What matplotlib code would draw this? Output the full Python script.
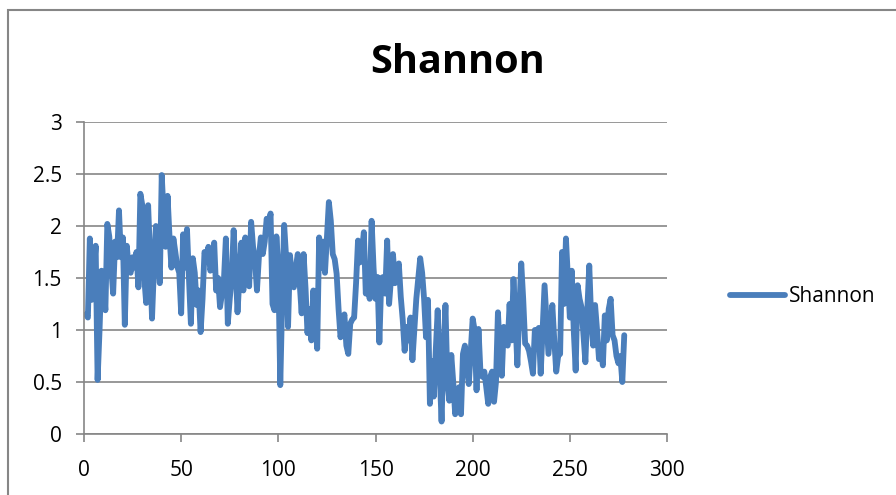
import numpy as np
import matplotlib
matplotlib.use("Agg")
import matplotlib.pyplot as plt
from matplotlib.patches import Rectangle

# values, sample index 1..278
shannon = [
    1.15, 1.12, 1.88, 1.29, 1.55, 1.81, 0.52, 1.00, 1.57, 1.45,
    1.19, 2.02, 1.90, 1.60, 1.35, 1.85, 1.70, 2.15, 1.70, 1.89,
    1.05, 1.81, 1.60, 1.55, 1.70, 1.60, 1.75, 1.41, 2.31, 2.20,
    1.50, 1.26, 2.20, 1.70, 1.11, 1.60, 2.00, 1.80, 1.45, 2.49,
    2.10, 1.80, 2.29, 1.90, 1.60, 1.88, 1.75, 1.61, 1.55, 1.16,
    1.92, 1.60, 1.97, 1.50, 1.06, 1.69, 1.55, 1.24, 1.38, 0.98,
    1.30, 1.75, 1.70, 1.80, 1.57, 1.65, 1.84, 1.38, 1.50, 1.22,
    1.35, 1.48, 1.88, 1.06, 1.30, 1.51, 1.96, 1.60, 1.17, 1.50,
    1.84, 1.38, 1.89, 1.50, 1.42, 2.04, 1.80, 1.67, 1.38, 1.70,
    1.89, 1.73, 1.85, 2.07, 2.00, 2.12, 1.25, 1.19, 1.90, 1.60,
    0.47, 1.30, 2.01, 1.70, 1.03, 1.72, 1.50, 1.41, 1.60, 1.73,
    1.45, 1.16, 1.73, 1.40, 0.97, 1.20, 0.90, 1.38, 1.10, 0.82,
    1.89, 1.60, 1.85, 1.55, 1.90, 2.23, 2.05, 1.73, 1.68, 1.54,
    1.20, 0.93, 1.05, 1.15, 0.85, 0.77, 1.06, 1.10, 1.12, 1.45,
    1.86, 1.65, 1.75, 1.94, 1.35, 1.50, 1.30, 2.05, 1.60, 1.30,
    1.51, 0.88, 1.50, 1.51, 1.35, 1.86, 1.25, 1.50, 1.73, 1.45,
    1.55, 1.64, 1.32, 1.10, 0.80, 1.03, 0.90, 1.12, 0.71, 1.00,
    1.30, 1.50, 1.69, 1.55, 1.30, 0.93, 1.29, 0.29, 0.70, 0.36,
    0.80, 1.19, 0.60, 0.12, 0.80, 1.24, 0.50, 0.32, 0.76, 0.50,
    0.19, 0.35, 0.45, 0.19, 0.77, 0.85, 0.65, 0.48, 0.80, 1.11,
    1.00, 0.42, 1.01, 0.60, 0.55, 0.60, 0.45, 0.29, 0.55, 0.60,
    0.31, 0.50, 1.17, 0.80, 0.56, 1.03, 0.90, 0.85, 1.25, 0.90,
    1.49, 1.10, 0.66, 1.20, 1.64, 1.30, 0.87, 0.85, 0.80, 0.70,
    0.58, 1.00, 0.98, 1.02, 0.58, 1.00, 1.43, 1.10, 0.77, 1.00,
    1.24, 0.90, 0.60, 0.75, 0.77, 1.75, 1.25, 1.88, 1.50, 1.12,
    1.57, 1.00, 0.61, 1.43, 1.30, 1.22, 0.95, 0.69, 1.20, 1.62,
    1.10, 0.85, 1.24, 1.00, 0.72, 0.80, 0.66, 1.14, 0.90, 1.20,
    1.30, 0.95, 0.90, 0.75, 0.68, 0.75, 0.50, 0.95,
]
x = np.arange(1, len(shannon) + 1)

xticks = [0, 50, 100, 150, 200, 250, 300]
yticks = [0, 0.5, 1, 1.5, 2, 2.5, 3]
yticklabels = ["0", "0.5", "1", "1.5", "2", "2.5", "3"]

plt.rcParams['font.family'] = ['Open Sans', 'DejaVu Sans']
grey = "#868686"

fig = plt.figure(figsize=(8.96, 4.95), dpi=100)
fig.patches.append(Rectangle((8/896, -0.1), 1.2, 1 - 10/495 + 0.1,
                             transform=fig.transFigure, fill=False,
                             edgecolor=grey, linewidth=1.5))

ax = fig.add_axes([84/896, 1 - 434/495, (667 - 84)/896, (434 - 122)/495])
ax.plot(x, shannon, color="#4a7ebb", linewidth=4.2, label="Shannon",
        solid_joinstyle="round", solid_capstyle="round")

ax.set_xlim(0, 300)
ax.set_ylim(0, 3)
ax.set_xticks(xticks)
ax.set_yticks(yticks)
ax.set_yticklabels(yticklabels)
ax.grid(axis="y", color=grey, linewidth=1.2)
ax.set_axisbelow(True)
for side in ["top", "right"]:
    ax.spines[side].set_visible(False)
for side in ["left", "bottom"]:
    ax.spines[side].set_color(grey)
    ax.spines[side].set_linewidth(1.2)
ax.tick_params(axis="both", direction="out", length=6, width=1.2,
               color=grey, labelsize=15, labelcolor="black", pad=10)
ax.tick_params(axis="x", pad=13)

fig.text(458/896, 1 - 63/495, "Shannon", fontsize=28.5, fontweight="bold",
         ha="center", va="center")

ax.legend(loc="center left", bbox_to_anchor=(720/896, 1 - 297/495),
          bbox_transform=fig.transFigure, frameon=False, fontsize=15,
          handlelength=2.6, handletextpad=0.2, borderpad=0)

fig.savefig("out.png", dpi=100)
